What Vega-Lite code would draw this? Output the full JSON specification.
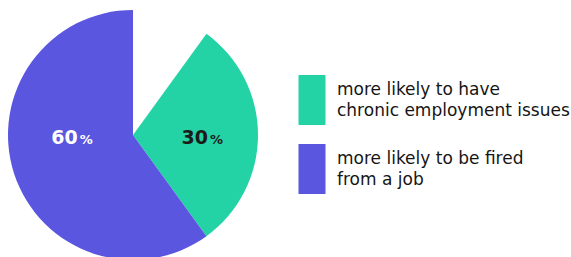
{
  "$schema": "https://vega.github.io/schema/vega-lite/v6.json",
  "width": 266,
  "height": 270,
  "padding": 0,
  "background": "white",
  "view": {"stroke": null},
  "data": {"values": [
    {"cat": "more likely to have|chronic employment issues", "value": 30, "rank": 1},
    {"cat": "more likely to be fired|from a job", "value": 60, "rank": 2}
  ]},
  "encoding": {
    "theta": {"field": "value", "type": "quantitative", "stack": true, "scale": {"range": [0.6283185, 6.2831853]}},
    "order": {"field": "rank", "type": "quantitative"}
  },
  "layer": [
    {
      "mark": {"type": "arc", "outerRadius": 125},
      "encoding": {
        "color": {
          "field": "cat", "type": "nominal",
          "sort": ["more likely to have|chronic employment issues", "more likely to be fired|from a job"],
          "scale": {"domain": ["more likely to have|chronic employment issues", "more likely to be fired|from a job"], "range": ["#24d3a5", "#5a56e0"]},
          "legend": {
            "orient": "none", "legendX": 287, "legendY": 75, "title": null, "padding": 0,
            "symbolType": "M-0.54,-1H0.54V1H-0.54Z", "symbolSize": 2500, "symbolStrokeWidth": 0, "symbolOpacity": 1,
            "labelExpr": "split(datum.label, '|')", "labelFont": "DejaVu Sans", "labelFontSize": 17,
            "labelColor": "#151515", "labelLimit": 300, "labelOffset": 0, "rowPadding": 19, "labelBaseline": "middle",
            "encode": {"labels": {"update": {"lineHeight": {"value": 21}, "dy": {"value": -10}}}}
          }
        }
      }
    },
    {
      "mark": {"type": "text", "radius": 76, "align": "right", "dx": -1, "dy": 9, "baseline": "alphabetic", "font": "DejaVu Sans", "fontSize": 19, "fontWeight": "bold", "color": "#1b1b1b"},
      "encoding": {"text": {"condition": {"test": "datum.rank === 2", "value": ""}, "field": "value", "type": "quantitative"}}
    },
    {
      "mark": {"type": "text", "radius": 76, "align": "left", "dx": 1, "dy": 9, "baseline": "alphabetic", "font": "DejaVu Sans", "fontSize": 13, "fontWeight": "bold", "color": "#1b1b1b"},
      "encoding": {"text": {"condition": {"test": "datum.rank === 2", "value": ""}, "value": "%"}}
    },
    {
      "mark": {"type": "text", "radius": 57, "align": "right", "dx": -1, "dy": -8.6, "baseline": "alphabetic", "font": "DejaVu Sans", "fontSize": 19, "fontWeight": "bold", "color": "#ffffff"},
      "encoding": {"text": {"condition": {"test": "datum.rank === 1", "value": ""}, "field": "value", "type": "quantitative"}}
    },
    {
      "mark": {"type": "text", "radius": 57, "align": "left", "dx": 1, "dy": -8.6, "baseline": "alphabetic", "font": "DejaVu Sans", "fontSize": 13, "fontWeight": "bold", "color": "#ffffff"},
      "encoding": {"text": {"condition": {"test": "datum.rank === 1", "value": ""}, "value": "%"}}
    }
  ]
}
